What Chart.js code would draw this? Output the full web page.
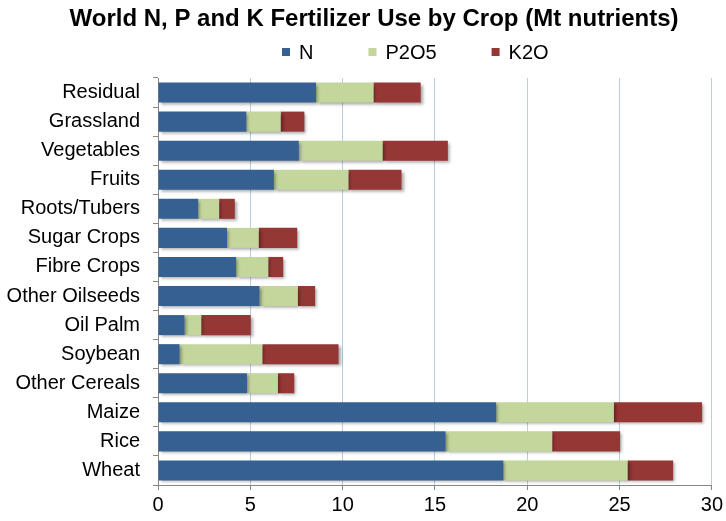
<!DOCTYPE html>
<html>
<head>
<meta charset="utf-8">
<script src="https://cdn.jsdelivr.net/npm/chart.js@4/dist/chart.umd.min.js"></script>
<style>
  html, body { margin: 0; padding: 0; background: #ffffff; }
  #wrap { width: 726px; height: 521px; position: relative; }
</style>
</head>
<body>
<div id="wrap"><canvas id="chart"></canvas></div>
<script>
// Crops, listed from the top of the chart down
const crops = ['Residual', 'Grassland', 'Vegetables', 'Fruits', 'Roots/Tubers', 'Sugar Crops',
  'Fibre Crops', 'Other Oilseeds', 'Oil Palm', 'Soybean', 'Other Cereals', 'Maize', 'Rice', 'Wheat'];

// Nutrient use per crop, Mt
const nValues    = [8.56, 4.79, 7.63, 6.28, 2.18, 3.74, 4.23, 5.50, 1.44, 1.17, 4.82, 18.32, 15.58, 18.71];
const p2o5Values = [3.11, 1.85, 4.53, 4.03, 1.13, 1.71, 1.74, 2.07, 0.90, 4.48, 1.67, 6.37, 5.77, 6.72];
const k2oValues  = [2.56, 1.29, 3.54, 2.88, 0.85, 2.09, 0.81, 0.94, 2.68, 4.13, 0.89, 4.78, 3.68, 2.47];

const xTicks = [0, 5, 10, 15, 20, 25, 30];

const chartTitle = 'World N, P and K Fertilizer Use by Crop (Mt nutrients)';

const FONT = "'Liberation Sans', Arial, sans-serif";

// Soft drop shadow under the bars
const barShadow = {
  id: 'barShadow',
  beforeDatasetsDraw(chart) {
    const ctx = chart.ctx;
    ctx.save();
    ctx.shadowColor = 'rgba(0,0,0,0.35)';
    ctx.shadowBlur = 3;
    ctx.shadowOffsetX = 2;
    ctx.shadowOffsetY = 2;
  },
  afterDatasetsDraw(chart) {
    chart.ctx.restore();
  }
};

// Title and a single-row legend with small square swatches, drawn above the plot
const header = {
  id: 'header',
  afterDraw(chart, args, opts) {
    const ctx = chart.ctx;
    ctx.save();
    ctx.fillStyle = '#000000';
    ctx.textBaseline = 'middle';
    ctx.textAlign = 'center';
    ctx.font = `bold ${opts.titleSize}px ${FONT}`;
    ctx.fillText(opts.title, opts.titleX, opts.titleY);

    ctx.font = `${opts.fontSize}px ${FONT}`;
    ctx.textAlign = 'left';
    let x = opts.startX;
    const y = opts.y;
    chart.data.datasets.forEach(ds => {
      ctx.fillStyle = ds.backgroundColor;
      ctx.fillRect(x, y - opts.box / 2, opts.box, opts.box);
      x += opts.box + opts.textGap;
      ctx.fillStyle = '#000000';
      ctx.fillText(ds.label, x, y + 1);
      x += ctx.measureText(ds.label).width + opts.itemGap;
    });
    ctx.restore();
  }
};

new Chart(document.getElementById('chart'), {
  type: 'bar',
  data: {
    labels: crops,
    datasets: [
      { label: 'N', data: nValues, backgroundColor: '#376092' },
      { label: 'P2O5', data: p2o5Values, backgroundColor: '#c3d69b' },
      { label: 'K2O', data: k2oValues, backgroundColor: '#953735' }
    ]
  },
  options: {
    indexAxis: 'y',
    responsive: true,
    maintainAspectRatio: false,
    animation: false,
    layout: { padding: { left: 0, right: 11, top: 78, bottom: 0 } },
    datasets: {
      bar: { barPercentage: 0.69, categoryPercentage: 1.0, borderWidth: 0 }
    },
    plugins: {
      title: { display: false },
      legend: { display: false },
      header: {
        title: chartTitle, titleX: 374, titleY: 19, titleSize: 24,
        startX: 282, y: 52, box: 8, textGap: 9, itemGap: 55, fontSize: 20
      },
      tooltip: { enabled: false }
    },
    scales: {
      x: {
        stacked: true,
        min: 0,
        max: 30,
        afterBuildTicks(scale) { scale.ticks = xTicks.map(v => ({ value: v })); },
        ticks: { color: '#000000', font: { family: FONT, size: 20 }, padding: 3 },
        grid: { color: '#b9cde5', tickColor: '#868686', tickLength: 5 },
        border: { color: '#868686' },
        afterFit(scale) { scale.height = 36; }
      },
      y: {
        stacked: true,
        ticks: { color: '#000000', font: { family: FONT, size: 20 }, padding: 13 },
        grid: { drawOnChartArea: false, offset: true, tickColor: '#868686', tickLength: 5 },
        border: { color: '#868686' },
        afterFit(scale) { scale.width = 158; }
      }
    }
  },
  plugins: [barShadow, header]
});
</script>
</body>
</html>
